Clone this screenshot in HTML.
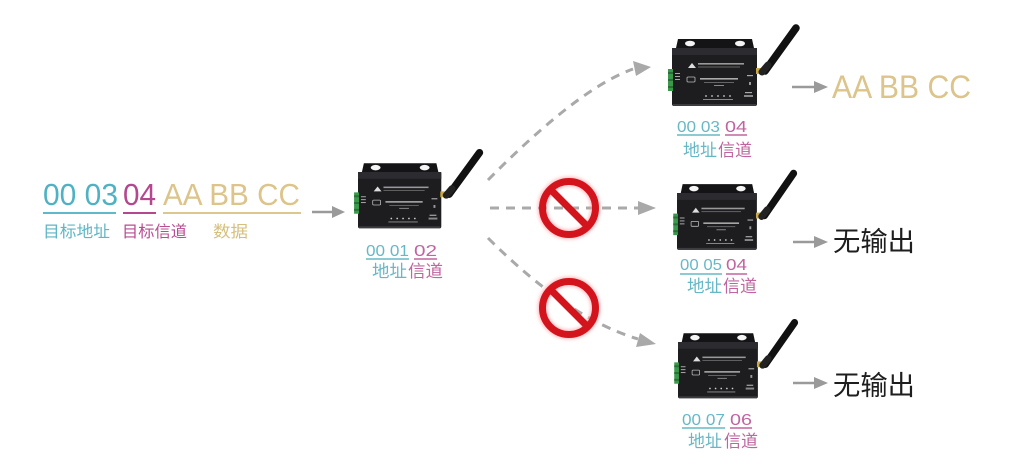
<!DOCTYPE html>
<html><head><meta charset="utf-8"><style>
html,body{margin:0;padding:0;background:#fff;}
svg{display:block;}
.n{font-family:"Liberation Sans","Noto Sans CJK SC",sans-serif;}
.c{font-family:"Liberation Sans","Noto Sans CJK SC",sans-serif;}
</style></head><body>
<svg width="1017" height="473" viewBox="0 0 1017 473" xmlns="http://www.w3.org/2000/svg">
<defs>
<g id="dev">
  <!-- flange -->
  <path d="M4 0 L6 -9 L80 -9 L82 0 Z" fill="#141416"/>
  <ellipse cx="18" cy="-4.5" rx="5" ry="2.8" fill="#f4f4f4"/>
  <ellipse cx="68" cy="-4.5" rx="5" ry="2.8" fill="#f4f4f4"/>
  <!-- body -->
  <rect x="0" y="0" width="85" height="58" rx="2" fill="#1d1d20"/>
  <rect x="0" y="0" width="85" height="7" fill="#2c2c30"/>
  <rect x="1" y="56" width="83" height="2" fill="#3c3c40"/>
  <!-- green terminal -->
  <rect x="-4" y="21" width="5" height="22" fill="#3a9a4c"/>
  <rect x="-4" y="24" width="5" height="2" fill="#2a6f36"/>
  <rect x="-4" y="31" width="5" height="2" fill="#2a6f36"/>
  <rect x="-4" y="38" width="5" height="2" fill="#2a6f36"/>
  <rect x="3" y="25" width="5" height="1" fill="#aaa"/>
  <rect x="3" y="28" width="5" height="1" fill="#aaa"/>
  <rect x="3" y="31" width="5" height="1" fill="#aaa"/>
  <!-- logo -->
  <path d="M16 20 L20 15 L24 20 Z" fill="#ddd"/>
  <rect x="26" y="15" width="46" height="1.6" fill="#999"/>
  <rect x="26" y="18.5" width="42" height="1" fill="#666"/>
  <!-- wireless label -->
  <rect x="15" y="29" width="8" height="5" rx="1" fill="none" stroke="#bbb" stroke-width="0.8"/>
  <rect x="28" y="30" width="38" height="1.6" fill="#aaa"/>
  <rect x="32" y="34" width="30" height="0.8" fill="#777"/>
  <rect x="42" y="37" width="10" height="1" fill="#888"/>
  <!-- right markings -->
  <rect x="75" y="27" width="6" height="1.2" fill="#aaa"/>
  <rect x="77" y="34" width="2" height="3" fill="#999"/>
  <rect x="73" y="44" width="7" height="1.2" fill="#aaa"/>
  <rect x="72" y="47" width="9" height="2" fill="#888"/>
  <!-- leds -->
  <circle cx="34" cy="48" r="0.9" fill="#ccc"/>
  <circle cx="40" cy="48" r="0.9" fill="#ccc"/>
  <circle cx="46" cy="48" r="0.9" fill="#ccc"/>
  <circle cx="52" cy="48" r="0.9" fill="#ccc"/>
  <circle cx="58" cy="48" r="0.9" fill="#ccc"/>
  <rect x="31" y="51" width="30" height="1" fill="#888"/>
  <!-- antenna -->
  <rect x="84" y="20" width="8" height="6" fill="#c9a94a"/>
  <line x1="93" y1="23" x2="124" y2="-20" stroke="#111" stroke-width="7.5" stroke-linecap="round"/>
  <line x1="90" y1="24" x2="96" y2="17" stroke="#222" stroke-width="7" stroke-linecap="round"/>
</g>
<filter id="glow" x="-30%" y="-30%" width="160%" height="160%"><feGaussianBlur stdDeviation="1.5"/></filter>
</defs>

<!-- left packet -->
<text class="n" x="43" y="205" font-size="31" fill="#4fb2c4" textLength="75" lengthAdjust="spacingAndGlyphs">00 03</text>
<text class="n" x="123" y="205" font-size="31" fill="#b4478e" textLength="33" lengthAdjust="spacingAndGlyphs">04</text>
<text class="n" x="163" y="205" font-size="31" fill="#dcc48a" textLength="137" lengthAdjust="spacingAndGlyphs">AA BB CC</text>
<line x1="43" y1="213" x2="116" y2="213" stroke="#5fb9c8" stroke-width="2"/>
<line x1="123" y1="213" x2="156" y2="213" stroke="#b4478e" stroke-width="2"/>
<line x1="163" y1="213" x2="301" y2="213" stroke="#dcc790" stroke-width="2"/>
<text class="c" x="43" y="237" font-size="16" fill="#5fb6c6" textLength="67" lengthAdjust="spacingAndGlyphs">目标地址</text>
<text class="c" x="122" y="237" font-size="16" fill="#b94c93" textLength="65" lengthAdjust="spacingAndGlyphs">目标信道</text>
<text class="c" x="213" y="237" font-size="16" fill="#d6bf7c" textLength="35" lengthAdjust="spacingAndGlyphs">数据</text>
<line x1="312" y1="212" x2="334" y2="212" stroke="#9a9a9a" stroke-width="2.5"/>
<path d="M345 212 L332 206 L332 218 Z" fill="#9a9a9a"/>

<!-- center device -->
<use href="#dev" transform="translate(358,172) scale(0.98,0.97)"/>
<text class="n" x="366" y="256" font-size="16" fill="#67b8c6" textLength="43" lengthAdjust="spacingAndGlyphs">00 01</text>
<text class="n" x="414" y="256" font-size="16" fill="#c0659f" textLength="23" lengthAdjust="spacingAndGlyphs">02</text>
<line x1="366" y1="259" x2="409" y2="259" stroke="#67b8c6" stroke-width="1.5"/>
<line x1="414" y1="259" x2="437" y2="259" stroke="#c0659f" stroke-width="1.5"/>
<text class="c" x="372" y="277" font-size="17" fill="#67b8c6" textLength="35" lengthAdjust="spacingAndGlyphs">地址</text>
<text class="c" x="408" y="277" font-size="17" fill="#c0659f" textLength="35" lengthAdjust="spacingAndGlyphs">信道</text>

<!-- dashed connectors -->
<g fill="none" stroke="#a9a9a9" stroke-width="3" stroke-dasharray="9 7">
  <path d="M488 180 Q579 88 633 69"/>
  <path d="M490 208 L638 208"/>
  <path d="M488 238 Q568 318 638 339"/>
</g>
<path d="M651 67 L633 61 L636 76 Z" fill="#a9a9a9"/>
<path d="M656 208 L638 201 L638 215 Z" fill="#a9a9a9"/>
<path d="M656 344 L640 333 L636 347 Z" fill="#a9a9a9"/>

<!-- no signs -->
<g>
  <circle cx="569" cy="208" r="26.5" fill="none" stroke="#ff9aa0" stroke-width="10" filter="url(#glow)" opacity="0.6"/>
  <circle cx="569" cy="208" r="26.5" fill="none" stroke="#d3141c" stroke-width="7"/>
  <line x1="550" y1="189" x2="588" y2="227" stroke="#d3141c" stroke-width="7"/>
  <circle cx="569" cy="308" r="26.5" fill="none" stroke="#ff9aa0" stroke-width="10" filter="url(#glow)" opacity="0.6"/>
  <circle cx="569" cy="308" r="26.5" fill="none" stroke="#d3141c" stroke-width="7"/>
  <line x1="550" y1="289" x2="588" y2="327" stroke="#d3141c" stroke-width="7"/>
</g>

<!-- top right device -->
<use href="#dev" transform="translate(672,48)"/>
<text class="n" x="677" y="132" font-size="16" fill="#67b8c6" textLength="43" lengthAdjust="spacingAndGlyphs">00 03</text>
<text class="n" x="725" y="132" font-size="16" fill="#c0659f" textLength="22" lengthAdjust="spacingAndGlyphs">04</text>
<line x1="677" y1="135" x2="720" y2="135" stroke="#67b8c6" stroke-width="1.5"/>
<line x1="725" y1="135" x2="747" y2="135" stroke="#c0659f" stroke-width="1.5"/>
<text class="c" x="683" y="156" font-size="17" fill="#67b8c6" textLength="34" lengthAdjust="spacingAndGlyphs">地址</text>
<text class="c" x="718" y="156" font-size="17" fill="#c0659f" textLength="34" lengthAdjust="spacingAndGlyphs">信道</text>
<line x1="792" y1="87" x2="816" y2="87" stroke="#9a9a9a" stroke-width="2.5"/>
<path d="M828 87 L814 81 L814 93 Z" fill="#9a9a9a"/>
<text class="n" x="832" y="98" font-size="32" fill="#dcc48a" textLength="139" lengthAdjust="spacingAndGlyphs">AA BB CC</text>

<!-- middle right device -->
<use href="#dev" transform="translate(677,193) scale(0.94,0.98)"/>
<text class="n" x="680" y="270" font-size="16" fill="#67b8c6" textLength="42" lengthAdjust="spacingAndGlyphs">00 05</text>
<text class="n" x="726" y="270" font-size="16" fill="#c0659f" textLength="21" lengthAdjust="spacingAndGlyphs">04</text>
<line x1="680" y1="274" x2="722" y2="274" stroke="#67b8c6" stroke-width="1.5"/>
<line x1="726" y1="274" x2="747" y2="274" stroke="#c0659f" stroke-width="1.5"/>
<text class="c" x="687" y="292" font-size="17" fill="#67b8c6" textLength="35" lengthAdjust="spacingAndGlyphs">地址</text>
<text class="c" x="723" y="292" font-size="17" fill="#c0659f" textLength="34" lengthAdjust="spacingAndGlyphs">信道</text>
<line x1="793" y1="242" x2="816" y2="242" stroke="#9a9a9a" stroke-width="2.5"/>
<path d="M828 242 L814 236 L814 248 Z" fill="#9a9a9a"/>
<text class="c" x="833" y="251" font-size="27" fill="#1e1e1e" textLength="82" lengthAdjust="spacingAndGlyphs">无输出</text>

<!-- bottom right device -->
<use href="#dev" transform="translate(678,342) scale(0.94,0.97)"/>
<text class="n" x="682" y="425" font-size="16" fill="#67b8c6" textLength="43" lengthAdjust="spacingAndGlyphs">00 07</text>
<text class="n" x="730" y="425" font-size="16" fill="#c0659f" textLength="22" lengthAdjust="spacingAndGlyphs">06</text>
<line x1="682" y1="428" x2="725" y2="428" stroke="#67b8c6" stroke-width="1.5"/>
<line x1="730" y1="428" x2="752" y2="428" stroke="#c0659f" stroke-width="1.5"/>
<text class="c" x="688" y="447" font-size="17" fill="#67b8c6" textLength="34" lengthAdjust="spacingAndGlyphs">地址</text>
<text class="c" x="724" y="447" font-size="17" fill="#c0659f" textLength="34" lengthAdjust="spacingAndGlyphs">信道</text>
<line x1="793" y1="383" x2="816" y2="383" stroke="#9a9a9a" stroke-width="2.5"/>
<path d="M828 383 L814 377 L814 389 Z" fill="#9a9a9a"/>
<text class="c" x="833" y="395" font-size="27" fill="#1e1e1e" textLength="82" lengthAdjust="spacingAndGlyphs">无输出</text>
</svg>
</body></html>
